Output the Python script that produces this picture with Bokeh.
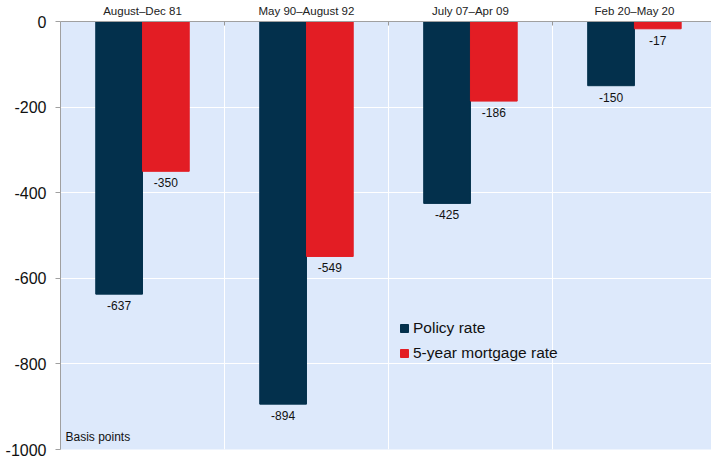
from bokeh.plotting import figure
from bokeh.models import (ColumnDataSource, Range1d, FixedTicker, Legend, LegendItem, Label)
from bokeh.embed import file_html
from bokeh.resources import INLINE

# Easing cycles: change in rates (basis points)
periods = ["August\u2013Dec 81", "May 90\u2013August 92", "July 07\u2013Apr 09", "Feb 20\u2013May 20"]
policy_rate = [-637, -894, -425, -150]
mortgage_rate = [-350, -549, -186, -17]
y_ticks = [0, -200, -400, -600, -800, -1000]

NAVY = "#03304c"
RED = "#e31d24"
BG = "#dde9fb"
FONT = "Liberation Sans"

bar_w = 0.285
idx = list(range(len(periods)))
src = ColumnDataSource(dict(
    x_pol=[i + 0.5 - bar_w / 2 for i in idx],
    x_mort=[i + 0.5 + bar_w / 2 for i in idx],
    pol=policy_rate,
    mort=mortgage_rate,
    pol_txt=[str(v) for v in policy_rate],
    mort_txt=[str(v) for v in mortgage_rate],
))

p = figure(width=711, height=457, output_backend="svg", toolbar_location=None,
           x_range=Range1d(0, 3.97), y_range=Range1d(-1000, 0),
           x_axis_location="above",
           min_border_left=60, min_border_top=21, min_border_bottom=8, min_border_right=0)
p.background_fill_color = BG
p.border_fill_color = "white"
p.outline_line_color = None

# Top axis: period names centred over each pair, small ticks at the boundaries
xa = p.xaxis[0]
xa.ticker = FixedTicker(ticks=[i + 0.5 for i in idx], minor_ticks=[1, 2, 3])
xa.major_label_overrides = {i + 0.5: periods[i] for i in idx}
xa.major_tick_line_color = None
xa.major_tick_in = 0
xa.major_tick_out = 0
xa.minor_tick_in = 4
xa.minor_tick_out = 0
xa.minor_tick_line_color = "#999999"
xa.axis_line_color = "#a0a0a0"
xa.major_label_text_font = FONT
xa.major_label_text_font_size = "11.5px"
xa.major_label_text_color = "#222222"
xa.major_label_standoff = 5

ya = p.yaxis[0]
ya.ticker = FixedTicker(ticks=y_ticks)
ya.major_label_overrides = {v: str(v) for v in y_ticks}
ya.axis_line_color = "#a0a0a0"
ya.major_tick_line_color = "#a0a0a0"
ya.major_tick_out = 5
ya.major_tick_in = 0
ya.minor_tick_line_color = None
ya.major_label_standoff = 9
ya.major_label_text_font = FONT
ya.major_label_text_font_size = "16px"
ya.major_label_text_color = "#111111"

p.xgrid.ticker = FixedTicker(ticks=[1, 2, 3])
p.xgrid.grid_line_color = "white"
p.ygrid.grid_line_color = "white"

r_pol = p.vbar(x="x_pol", top=0, bottom="pol", width=bar_w, source=src,
               fill_color=NAVY, line_color=NAVY)
r_mort = p.vbar(x="x_mort", top=0, bottom="mort", width=bar_w, source=src,
                fill_color=RED, line_color=RED)

for xcol, ycol, tcol in [("x_pol", "pol", "pol_txt"), ("x_mort", "mort", "mort_txt")]:
    p.text(x=xcol, y=ycol, text=tcol, source=src, y_offset=7,
           text_align="center", text_baseline="top",
           text_font_size="12px", text_font={"value": FONT}, text_color="#111111")

legend = Legend(items=[LegendItem(label="Policy rate", renderers=[r_pol]),
                       LegendItem(label="5-year mortgage rate", renderers=[r_mort])],
                location=(339, 86), orientation="vertical",
                background_fill_alpha=0, border_line_color=None,
                padding=0, margin=0, spacing=5,
                glyph_width=10, glyph_height=10, label_height=20,
                label_standoff=4,
                label_text_font=FONT, label_text_font_size="15.5px",
                label_text_color="#111111")
p.add_layout(legend)

p.add_layout(Label(x=5, y=6, x_units="screen", y_units="screen", text="Basis points",
                   text_font=FONT, text_font_size="12px", text_color="#111111"))

open("out.html", "w").write(file_html(p, INLINE))
